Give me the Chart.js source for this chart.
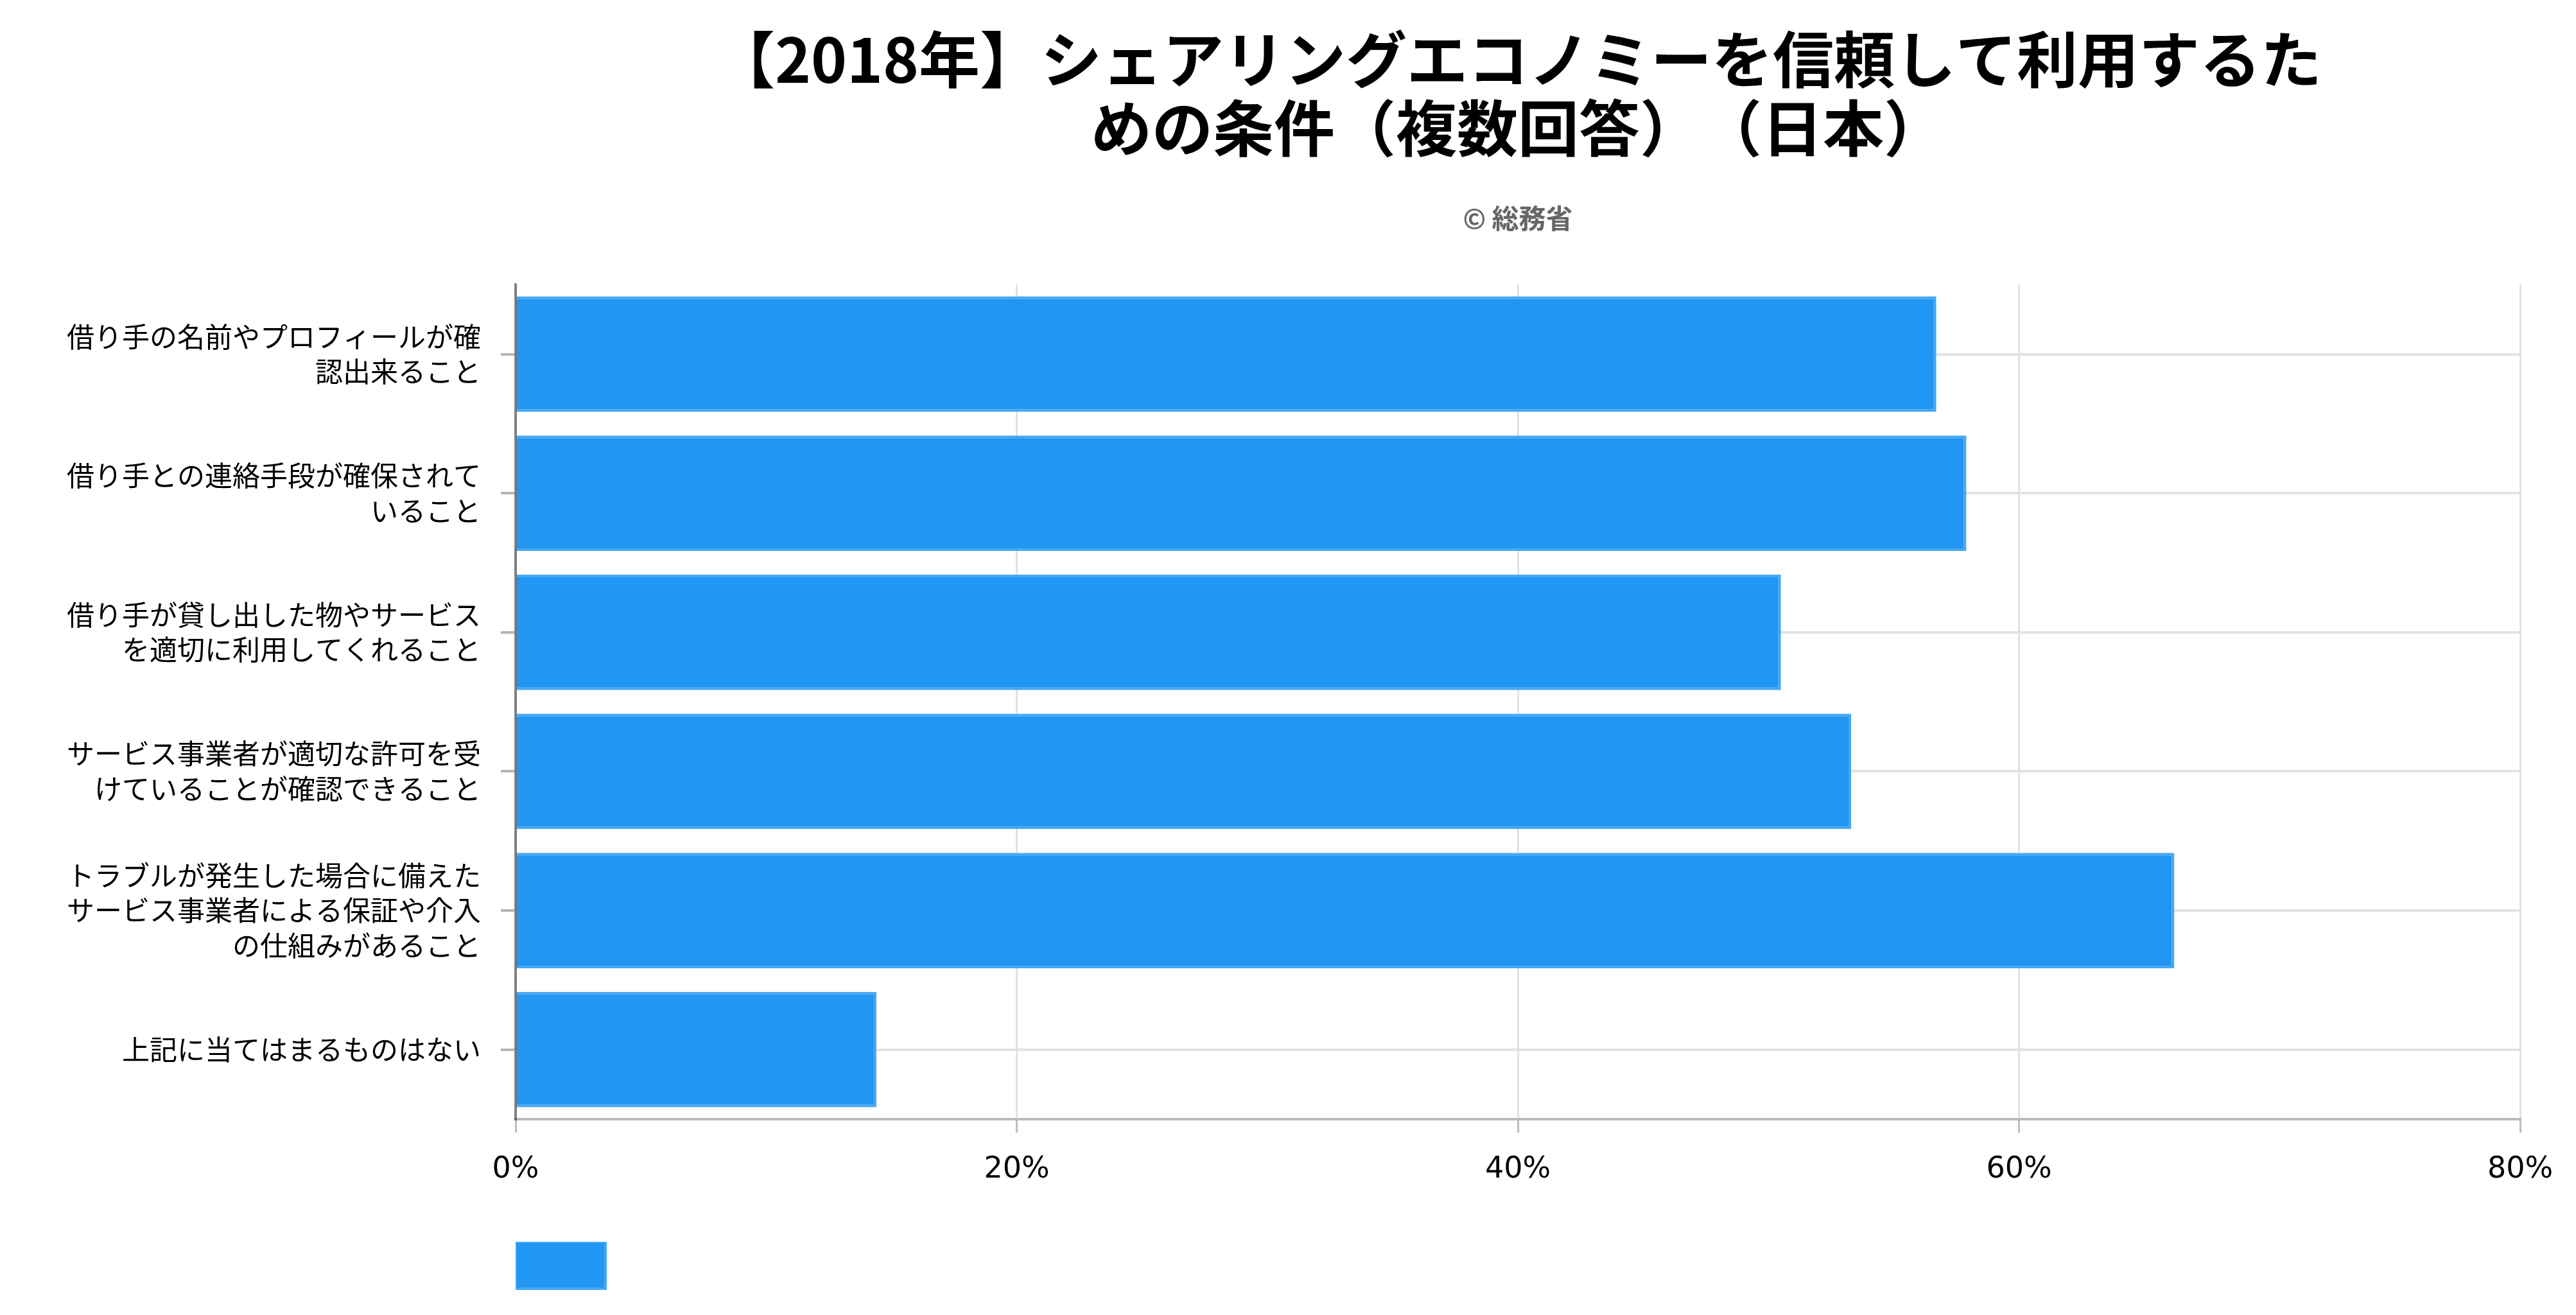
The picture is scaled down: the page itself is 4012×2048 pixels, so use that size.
<!DOCTYPE html>
<html lang="ja">
<head>
<meta charset="UTF-8">
<title>シェアリングエコノミーを信頼して利用するための条件</title>
<script src="https://cdn.jsdelivr.net/npm/chart.js@4.4.1/dist/chart.umd.min.js"></script>
<style>
    body { margin: 0; background: #fff; }
    #wrap { width: 4012px; height: 2048px; position: relative; }
    canvas { text-spacing-trim: space-all; }
</style>
</head>
<body>
<div id="wrap"><canvas id="conditionChart"></canvas></div>
<script>
// categories (wrapped like the original)
const categories = [
    ['借り手の名前やプロフィールが確', '認出来ること'],
    ['借り手との連絡手段が確保されて', 'いること'],
    ['借り手が貸し出した物やサービス', 'を適切に利用してくれること'],
    ['サービス事業者が適切な許可を受', 'けていることが確認できること'],
    ['トラブルが発生した場合に備えた', 'サービス事業者による保証や介入', 'の仕組みがあること'],
    '上記に当てはまるものはない'
];

// percent of respondents
const values2018 = [56.7, 57.9, 50.5, 53.3, 66.2, 14.4];

const xTicks = [0, 20, 40, 60, 80];

const titleLines = ['【2018年】シェアリングエコノミーを信頼して利用するた', 'めの条件（複数回答）（日本）'];
const sourceText = '© 総務省';

const jpFont = '"Noto Sans CJK JP", "Noto Sans", sans-serif';

const ctx = document.getElementById('conditionChart').getContext('2d');

new Chart(ctx, {
    type: 'bar',
    data: {
        labels: categories,
        datasets: [{
            label: '',
            data: values2018,
            backgroundColor: '#2196f3',
            borderColor: '#45a8f5',
            borderWidth: 4,
            categoryPercentage: 1,
            barPercentage: 0.83
        }]
    },
    options: {
        indexAxis: 'y',
        responsive: true,
        maintainAspectRatio: false,
        animation: false,
        layout: {
            padding: { left: 0, right: 87, top: 0, bottom: 31 }
        },
        plugins: {
            title: {
                display: true,
                text: titleLines,
                fullSize: false,
                color: '#000',
                font: { family: jpFont, size: 95, weight: 'bold', lineHeight: 1.12 },
                padding: { top: 40, bottom: 62 }
            },
            subtitle: {
                display: true,
                text: sourceText,
                fullSize: false,
                color: '#666',
                font: { family: jpFont, size: 42, weight: 'bold', lineHeight: 1.2 },
                padding: { top: 0, bottom: 78 }
            },
            legend: {
                position: 'bottom',
                align: 'start',
                fullSize: false,
                labels: {
                    boxWidth: 140,
                    boxHeight: 73,
                    padding: 0,
                    font: { size: 10 }
                }
            },
            tooltip: { enabled: false }
        },
        scales: {
            x: {
                min: 0,
                max: 80,
                afterBuildTicks: scale => {
                    scale.ticks = xTicks.map(v => ({ value: v }));
                },
                afterFit: scale => {
                    scale.height = 191;
                    scale.paddingLeft = 0;
                    scale.paddingRight = 0;
                },
                grid: {
                    color: '#e2e2e2',
                    lineWidth: 3,
                    tickLength: 21,
                    tickColor: '#bdbdbd'
                },
                border: { color: '#bbbbbb', width: 4 },
                ticks: {
                    color: '#000',
                    padding: 30,
                    font: { family: '"DejaVu Sans", sans-serif', size: 46 },
                    callback: v => `${v}%`
                }
            },
            y: {
                afterFit: scale => {
                    scale.width = 803;
                },
                grid: {
                    offset: false,
                    color: '#e3e3e3',
                    lineWidth: 4,
                    tickLength: 23,
                    tickColor: '#b5b5b5'
                },
                border: { color: 'rgba(0, 0, 0, 0.45)', width: 4, z: 1 },
                ticks: {
                    color: '#000',
                    padding: 31,
                    font: { family: jpFont, size: 43, lineHeight: 1.27 }
                }
            }
        }
    }
});
</script>
</body>
</html>
